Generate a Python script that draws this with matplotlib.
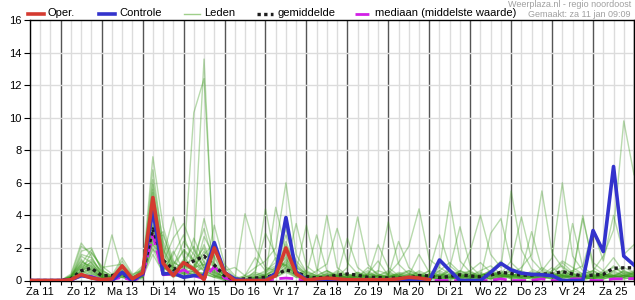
import matplotlib
matplotlib.use("Agg")
import matplotlib.pyplot as plt
from matplotlib.lines import Line2D

plt.rcParams["font.family"] = ["Liberation Sans", "DejaVu Sans"]

# 6-hourly steps, Za 11 06:00 .. Zo 26 00:00
days = ["Za 11", "Zo 12", "Ma 13", "Di 14", "Wo 15", "Do 16", "Vr 17", "Za 18",
        "Zo 19", "Ma 20", "Di 21", "Wo 22", "Do 23", "Vr 24", "Za 25"]

oper = [0, 0, 0, 0, 0.05, 0.37, 0.15, 0.05, 0.1, 0.9, 0.1, 0.47,
        5.1, 1.06, 0.3, 1.1, 0.7, 0.05, 2.0, 0.5, 0, 0, 0, 0,
        0.3, 2.0, 0.4, 0.02, 0.1, 0.15, 0.1, 0.05,
        0.05, 0.05, 0.05, 0.05, 0.1, 0.2, 0.15, 0.05]

controle = [0, 0, 0, 0, 0.05, 0.3, 0.2, 0, 0, 0.5, 0, 0.4,
            4.34, 0.4, 0.45, 0.2, 0.3, 0.3, 2.33, 0.5, 0.1, 0, 0, 0,
            0.45, 3.87, 0.5, 0.05, 0, 0, 0, 0, 0, 0, 0, 0,
            0, 0, 0, 0, 1.26, 0.62, 0, 0, 0, 0.5, 1.05, 0.65,
            0.45, 0.38, 0.35, 0.3, 0, 0, 0, 3.07, 1.78, 7.0, 1.5, 0.95]

gemiddelde = [0, 0, 0, 0, 0.1, 0.6, 0.75, 0.3, 0.3, 0.4, 0.1, 0.4,
              3.17, 1.25, 0.68, 0.95, 1.2, 1.5, 0.95, 0.3, 0.05, 0.1, 0.15, 0.2,
              0.35, 0.65, 0.5, 0.25, 0.15, 0.2, 0.33, 0.4, 0.33, 0.2, 0.18, 0.15,
              0.15, 0.15, 0.3, 0.28, 0.18, 0.25, 0.35, 0.28, 0.22, 0.33, 0.5, 0.43,
              0.33, 0.33, 0.4, 0.4, 0.55, 0.4, 0.28, 0.33, 0.38, 0.75, 0.78, 0.78]

mediaan = [0, 0, 0, 0, 0, 0.3, 0.25, 0.05, 0.05, 0.2, 0, 0.2,
           2.8, 0.35, 0.4, 0.65, 0.3, 0.1, 0.85, 0.15, 0, 0, 0, 0,
           0.1, 0.15, 0.1, 0, 0, 0, 0, 0, 0, 0, 0, 0,
           0, 0, 0, 0, 0, 0, 0, 0, 0, 0, 0.1, 0,
           0, 0, 0.1, 0, 0, 0.1, 0.1, 0, 0, 0.1, 0.1, 0.12]

leden = [
    [0, 0, 0, 0, 0.2, 1.8, 2.0, 0.6, 0.3, 0.8, 0.2, 0.6,
     6.2, 2.4, 1.0, 1.8, 1.2, 2.0, 0.8, 0.3, 0, 0, 0.2, 0.1,
     0.4, 2.2, 0.6, 0.2, 0.1, 0.4, 0.2, 0.1, 0, 0, 0.3, 0.6,
     0.2, 0, 0.1, 0.3, 0.5, 0.2, 0, 0.1, 0.3, 0.6, 1.2, 0.4,
     0.2, 0.1, 0.3, 0.8, 0.3, 0.1, 0, 0.2, 0.6, 1.4, 0.5, 0.3],
    [0, 0, 0, 0, 0.4, 2.3, 1.5, 0.3, 0.2, 1.2, 0.3, 0.9,
     4.8, 1.2, 0.4, 0.7, 2.6, 1.1, 0.4, 0.1, 0, 0.3, 1.4, 0.6,
     1.1, 3.2, 1.0, 0.4, 0.2, 0.1, 0, 0, 0.2, 0.8, 0.4, 0.1,
     0, 0.3, 1.6, 0.5, 0.2, 0.8, 3.3, 0.9, 0.3, 0.1, 0.2, 0.6,
     0.4, 0.2, 0.1, 0.3, 1.1, 0.5, 0.2, 0.1, 0.3, 0.9, 0.4, 0.2],
    [0, 0, 0, 0, 0.1, 0.6, 1.7, 0.9, 0.4, 0.5, 0.1, 0.3,
     3.6, 0.8, 0.3, 1.0, 10.3, 12.4, 1.1, 0.2, 0, 0, 0.1, 0.3,
     0.8, 1.4, 0.3, 0.1, 0, 0.2, 0.5, 0.3, 0.1, 0.4, 0.2, 0,
     0.1, 0.4, 0.3, 0.1, 0, 0.2, 0.6, 0.3, 0.1, 0.4, 0.3, 0.2,
     0.6, 0.3, 0.2, 0.1, 0.4, 0.2, 0.1, 0.5, 0.3, 0.2, 0.6, 0.4],
    [0, 0, 0, 0, 0.3, 1.2, 0.8, 0.2, 2.8, 0.6, 0.2, 0.4,
     5.4, 1.8, 0.6, 0.4, 1.8, 13.6, 0.5, 0.1, 0, 0.2, 0.4, 0.2,
     0.3, 1.0, 0.4, 0.2, 0.3, 0.6, 0.3, 0.2, 0.4, 0.2, 0.1, 0.3,
     0.2, 0.1, 0.2, 0.4, 0.3, 0.1, 0.2, 0.5, 0.2, 0.3, 0.4, 0.1,
     0.2, 0.3, 0.6, 0.2, 0.1, 0.3, 0.2, 0.1, 0.4, 0.3, 0.2, 0.5],
    [0, 0, 0, 0, 0.2, 0.9, 1.3, 0.5, 0.2, 0.4, 0.1, 0.7,
     7.6, 3.3, 1.2, 0.6, 0.9, 1.6, 2.3, 0.8, 0.2, 0, 0, 0.1,
     0.2, 0.6, 0.3, 0.1, 0, 0, 0.1, 0.2, 0.1, 0, 0, 0.1,
     0.3, 0.2, 0.1, 0.2, 0.1, 0, 0.3, 0.2, 0.1, 0.1, 0.2, 0.3,
     0.1, 0.2, 0.4, 0.2, 0.3, 0.1, 0.2, 0.3, 0.1, 0.2, 0.3, 0.2],
    [0, 0, 0, 0, 0.1, 0.5, 0.7, 0.2, 0.1, 0.3, 0, 0.2,
     3.1, 0.9, 0.5, 1.3, 0.7, 3.8, 1.4, 0.2, 0, 4.1, 2.0, 0.8,
     0.6, 2.4, 0.8, 0.3, 0.2, 0.1, 0.3, 0.4, 0.2, 0.1, 0.3, 0.5,
     0.2, 0.1, 0.4, 0.2, 0.6, 0.3, 0.1, 0.2, 0.1, 0.3, 0.5, 0.2,
     0.1, 0.2, 0.3, 0.1, 0.2, 0.6, 0.4, 0.2, 0.1, 0.3, 0.2, 0.4],
    [0, 0, 0, 0, 0.1, 1.5, 1.1, 0.4, 0.2, 0.7, 0.2, 0.5,
     5.9, 2.0, 0.7, 1.1, 0.5, 0.8, 0.6, 0.2, 0.1, 0.3, 0.8, 1.2,
     2.0, 6.0, 1.6, 0.5, 0.3, 0.2, 0.4, 0.1, 0, 0.2, 0.3, 0.1,
     0.1, 0.2, 0.1, 0.3, 0.2, 0.1, 0.3, 0.2, 0.4, 0.2, 0.1, 0.3,
     0.2, 0.1, 0.2, 0.3, 0.1, 0.4, 0.2, 0.1, 0.2, 0.3, 0.1, 0.2],
    [0, 0, 0, 0, 0.3, 1.0, 1.9, 0.7, 0.2, 0.4, 0.1, 0.8,
     2.2, 1.5, 3.9, 1.4, 0.8, 2.2, 0.7, 0.1, 0, 0, 0.4, 4.4,
     1.2, 0.9, 0.4, 0.2, 0.1, 0.3, 0.2, 0.1, 0.3, 0.2, 0.1, 0,
     0.2, 0.3, 0.2, 0.1, 0.4, 0.2, 0.1, 0.3, 0.2, 0.6, 0.3, 0.1,
     0.3, 0.2, 0.1, 0.4, 0.3, 0.2, 0.1, 0.2, 0.3, 0.1, 0.2, 0.3],
    [0, 0, 0, 0, 0, 0.4, 0.6, 0.2, 0.1, 0.2, 0, 0.1,
     2.3, 0.6, 0.2, 0.5, 0.4, 1.2, 0.3, 0, 0, 0, 0.1, 0.3,
     4.5, 1.8, 0.6, 3.4, 0.7, 0.2, 0.1, 0.3, 0.5, 0.2, 0.1, 0.4,
     0.3, 0.6, 0.4, 0.2, 0.8, 0.4, 0.2, 0.6, 1.1, 0.5, 0.3, 0.8,
     0.4, 0.2, 0.1, 0.6, 0.9, 0.4, 0.3, 0.2, 0.5, 0.8, 0.4, 0.3],
    [0, 0, 0, 0, 0.2, 0.8, 0.4, 0.1, 0.3, 1.4, 0.4, 0.6,
     2.9, 0.7, 0.9, 2.4, 1.6, 0.9, 0.4, 0.1, 0, 0.1, 0.2, 0.1,
     0.3, 0.8, 3.5, 0.9, 0.4, 4.0, 0.8, 0.3, 0.1, 0.4, 1.2, 0.3,
     0.1, 0.2, 0.6, 0.3, 0.1, 0.3, 0.4, 0.2, 0.3, 0.1, 0.2, 0.4,
     0.2, 0.6, 0.3, 0.2, 0.4, 0.2, 0.1, 0.3, 0.2, 0.6, 0.3, 0.2],
    [0, 0, 0, 0, 0.1, 0.3, 0.5, 0.2, 0.1, 0.2, 0.1, 0.3,
     2.0, 0.4, 0.3, 0.2, 0.6, 0.4, 0.2, 0.1, 0, 0, 0, 0.2,
     0.5, 1.2, 0.4, 0.2, 0.6, 1.0, 3.2, 1.1, 0.4, 0.2, 0.5, 3.6,
     1.0, 0.4, 0.2, 0.3, 0.2, 0.6, 0.3, 0.1, 0.2, 0.4, 0.3, 0.2,
     0.5, 0.3, 0.2, 0.1, 0.3, 0.2, 0.4, 0.6, 0.3, 0.2, 0.1, 0.2],
    [0, 0, 0, 0, 0.2, 1.1, 0.9, 0.3, 0.2, 0.5, 0.1, 0.4,
     2.5, 2.8, 1.1, 0.8, 1.4, 3.2, 0.9, 0.4, 0.1, 0, 0.3, 0.6,
     0.9, 1.6, 0.8, 0.4, 2.8, 0.6, 0.2, 0.8, 3.9, 1.0, 0.3, 0.2,
     0.4, 0.2, 0.3, 0.2, 0.3, 0.2, 0.4, 0.6, 0.2, 0.3, 0.2, 0.4,
     0.3, 0.2, 0.4, 0.3, 0.2, 0.1, 0.3, 0.2, 0.4, 0.3, 0.2, 0.1],
    [0, 0, 0, 0, 0.1, 0.6, 0.3, 0.1, 0, 0.3, 0.1, 0.2,
     3.4, 1.0, 0.6, 0.3, 0.8, 1.0, 0.5, 0.2, 0, 0, 0.1, 0.2,
     0.3, 0.7, 0.3, 0.1, 0.2, 0.4, 0.3, 0.2, 0.1, 0.3, 0.6, 0.4,
     1.1, 2.1, 4.4, 1.3, 0.8, 4.85, 1.2, 0.5, 0.3, 0.6, 0.4, 0.2,
     0.1, 0.3, 0.5, 0.2, 0.3, 0.4, 0.2, 0.1, 0.2, 0.4, 0.3, 0.2],
    [0, 0, 0, 0, 0.2, 0.7, 1.0, 0.4, 0.2, 0.6, 0.2, 0.3,
     1.9, 1.3, 0.5, 0.9, 0.6, 1.4, 0.8, 0.3, 0, 0, 0.2, 0.3,
     0.6, 1.1, 0.5, 0.2, 0.1, 0.2, 0.3, 0.2, 0.1, 0.2, 0.4, 0.2,
     0.3, 0.1, 0.2, 0.4, 0.6, 1.1, 0.5, 1.8, 4.0, 1.6, 0.8, 5.5,
     1.9, 0.7, 0.4, 0.3, 0.6, 0.3, 0.2, 0.4, 0.2, 0.5, 0.3, 0.2],
    [0, 0, 0, 0, 0, 0.2, 0.4, 0.2, 0.1, 0.3, 0, 0.2,
     1.6, 0.5, 1.8, 0.6, 0.3, 0.5, 0.2, 0, 0, 0, 0, 0.1,
     0.2, 0.5, 0.2, 0.1, 0, 0.1, 0.2, 0.4, 0.2, 0.1, 0.3, 0.2,
     0.1, 0.3, 0.5, 0.2, 0.1, 0.4, 0.2, 0.3, 0.6, 0.9, 0.4, 1.2,
     3.9, 1.3, 0.6, 1.4, 6.0, 1.5, 0.6, 0.3, 0.4, 0.2, 0.3, 0.5],
    [0, 0, 0, 0, 0.1, 0.4, 0.8, 0.3, 0.2, 0.8, 0.2, 0.5,
     2.6, 0.8, 0.4, 1.2, 2.1, 0.7, 0.3, 0.1, 0, 0, 0.2, 0.4,
     1.4, 0.9, 0.3, 0.1, 0.2, 0.5, 0.2, 0.1, 0.3, 0.6, 0.2, 0.1,
     0.2, 0.4, 0.3, 0.6, 2.8, 0.9, 0.4, 0.2, 0.3, 0.5, 0.3, 0.4,
     0.8, 1.6, 5.5, 1.7, 0.8, 0.4, 0.2, 0.6, 0.3, 0.2, 0.4, 0.6],
    [0, 0, 0, 0, 0.2, 0.9, 0.5, 0.1, 0.1, 0.4, 0.1, 0.3,
     3.0, 0.6, 1.6, 2.8, 1.0, 0.6, 0.3, 0.1, 0, 0, 0.1, 0.2,
     0.4, 1.3, 0.6, 0.3, 0.1, 0.2, 0.4, 0.2, 0.1, 0.2, 0.1, 0.3,
     0.2, 0.1, 0.3, 0.2, 0.1, 0.2, 0.3, 0.4, 0.2, 0.3, 0.5, 0.3,
     0.2, 0.4, 0.3, 0.6, 1.2, 0.8, 0.4, 0.6, 1.5, 3.1, 9.8, 6.5],
    [0, 0, 0, 0, 0.1, 0.5, 1.2, 0.6, 0.3, 0.5, 0.1, 0.4,
     5.0, 1.9, 0.8, 0.5, 0.4, 2.7, 1.5, 0.4, 0.1, 0, 0.1, 0.2,
     0.3, 0.8, 0.4, 0.2, 0.3, 0.1, 0.2, 0.3, 0.2, 0.1, 0.2, 0.4,
     0.1, 0.2, 0.3, 0.2, 0.4, 0.3, 0.2, 0.1, 0.4, 0.3, 0.6, 0.3,
     0.2, 0.5, 0.3, 0.2, 0.4, 0.6, 0.9, 3.1, 1.2, 4.0, 1.6, 2.2],
    [0, 0, 0, 0, 0.2, 1.6, 1.4, 0.5, 0.1, 0.3, 0.1, 0.6,
     6.8, 2.2, 0.9, 0.4, 0.3, 1.0, 0.6, 0.2, 0, 0.2, 0.5, 0.3,
     0.7, 1.9, 0.9, 0.4, 0.2, 0.3, 0.1, 0.2, 0.5, 0.3, 0.2, 0.1,
     0.3, 0.5, 0.2, 0.1, 0.3, 0.6, 0.4, 0.2, 0.1, 0.2, 0.3, 0.6,
     0.3, 0.2, 0.8, 0.4, 0.2, 0.3, 3.8, 1.1, 0.6, 0.3, 0.5, 0.4],
    [0, 0, 0, 0, 0.3, 2.1, 1.7, 0.8, 0.9, 1.0, 0.3, 0.7,
     4.0, 1.1, 2.6, 3.5, 1.9, 0.8, 0.5, 0.2, 0, 0.1, 0.3, 0.5,
     0.8, 2.8, 1.2, 0.5, 0.3, 0.6, 0.3, 2.6, 0.8, 0.3, 0.1, 0.2,
     0.4, 0.2, 0.1, 0.3, 0.2, 0.1, 0.2, 0.3, 0.2, 0.4, 0.2, 0.3,
     0.4, 0.3, 0.2, 0.5, 0.3, 0.2, 0.4, 0.3, 0.2, 0.6, 0.8, 0.5],
    [0, 0, 0, 0, 0.1, 0.8, 1.1, 0.3, 0.2, 0.6, 0.2, 0.5,
     5.6, 1.6, 0.7, 1.9, 1.3, 0.6, 0.3, 0.1, 0, 0, 0.6, 2.9,
     1.6, 0.7, 0.3, 0.2, 0.1, 0.2, 0.6, 0.3, 0.2, 0.5, 0.2, 0.3,
     2.4, 0.8, 0.3, 0.2, 0.1, 0.2, 0.5, 0.3, 0.2, 0.1, 0.4, 0.2,
     0.3, 0.2, 0.1, 0.3, 0.5, 0.2, 0.3, 0.2, 0.1, 0.3, 0.2, 0.4],
    [0, 0, 0, 0, 0.2, 1.3, 0.6, 0.2, 0.1, 0.2, 0, 0.3,
     3.3, 0.9, 0.3, 0.7, 0.5, 0.3, 3.4, 1.0, 0.3, 0, 0.1, 0.2,
     0.5, 1.0, 0.4, 0.6, 0.3, 0.2, 0.1, 0.2, 0.4, 0.2, 2.2, 0.8,
     0.3, 0.2, 0.1, 0.4, 0.3, 0.2, 0.6, 0.4, 0.2, 2.9, 3.8, 1.1,
     0.5, 0.3, 0.2, 0.4, 0.2, 0.3, 0.2, 0.1, 0.4, 0.2, 0.3, 0.2],
    [0, 0, 0, 0, 0.1, 0.6, 0.9, 0.4, 0.2, 0.4, 0.1, 0.2,
     2.4, 3.0, 0.8, 0.4, 0.6, 0.4, 0.2, 0.6, 0.8, 0.3, 0.1, 0.2,
     0.4, 0.6, 0.2, 0.1, 0.2, 0.4, 0.2, 0.1, 0.3, 0.2, 0.1, 0.2,
     0.5, 0.3, 0.2, 0.6, 0.3, 0.2, 0.1, 0.3, 0.5, 0.2, 0.3, 0.2,
     0.6, 3.0, 0.7, 0.3, 0.2, 3.5, 0.8, 0.4, 0.2, 0.3, 0.6, 0.3],
    [0, 0, 0, 0, 0.2, 1.0, 0.7, 0.2, 0.2, 0.9, 0.2, 0.4,
     2.7, 1.4, 0.6, 0.9, 0.7, 1.8, 1.0, 0.3, 0, 0, 0.2, 0.4,
     0.6, 1.5, 0.6, 0.3, 0.1, 0.2, 0.3, 0.1, 0.2, 0.4, 0.3, 0.2,
     0.4, 0.6, 0.3, 0.2, 0.3, 0.4, 0.2, 0.1, 0.3, 0.4, 0.2, 0.3,
     0.2, 0.4, 0.3, 0.2, 0.6, 0.3, 4.0, 0.8, 0.4, 0.2, 0.3, 0.5],
]

W, H = 635, 300
fig = plt.figure(figsize=(W / 100, H / 100), dpi=100)
ax = fig.add_axes([30 / W, (H - 280.5) / H, 604 / W, 260.5 / H])

n = len(controle)
x = list(range(n))

# grid: light every 6 h, dark at midnight
for i in x:
    dark = (i - 3) % 4 == 0
    ax.axvline(i, color="#555555" if dark else "#dcdcdc", lw=1, zorder=0)
for v in range(2, 16, 2):
    ax.axhline(v, color="#dcdcdc", lw=1, zorder=0)

GREEN = "#3a9a1c"
for m in leden:
    ax.plot(x, m, color=GREEN, lw=1.0, alpha=0.36, zorder=1)

MAG = "#d21fe6"
ax.plot(x, mediaan, color=MAG, lw=2.0, dashes=(5, 2), zorder=2)
ax.plot(x, gemiddelde, color="#1e1e1e", lw=2.4, dashes=(1, 1), zorder=3)
ax.plot(x, controle, color="#3333cc", lw=2.6, zorder=4)
ax.plot(x[:len(oper)], oper, color="#d43a30", lw=2.6, zorder=5)

ax.set_xlim(0, n - 1)
ax.set_ylim(0, 16)
ax.set_yticks(range(0, 17, 2))
ax.set_xticks(x)
ax.set_xticklabels([days[(i - 1) // 4] if (i - 1) % 4 == 0 else "" for i in x])
ax.tick_params(axis="x", length=3, width=0.8, pad=2, labelsize=8)
ax.tick_params(axis="y", length=4, width=0.8, pad=2, labelsize=8)
for s in ax.spines.values():
    s.set_color("black")
    s.set_linewidth(1)

# legend drawn in pixel positions above the plot
def fx(px):
    return px / W

def fy(py):
    return 1 - py / H

ly = 13.5
items = [
    (28, dict(color="#d43a30", lw=2.6), "Oper."),
    (99, dict(color="#3333cc", lw=2.6), "Controle"),
    (184, dict(color="#9fcf8a", lw=1.0), "Leden"),
    (257, dict(color="#1e1e1e", lw=2.4, dashes=(1, 1)), "gemiddelde"),
    (355, dict(color=MAG, lw=2.0, dashes=(5, 1.2, 1, 2)), "mediaan (middelste waarde)"),
]
for x0, style, label in items:
    fig.add_artist(Line2D([fx(x0), fx(x0 + 16)], [fy(ly), fy(ly)],
                          transform=fig.transFigure, **style))
    fig.text(fx(x0 + 20), fy(ly), label, fontsize=8, va="center", ha="left")

fig.text(fx(631), fy(4.5), "Weerplaza.nl - regio noordoost", fontsize=6.5,
         color="#a0a0a0", ha="right", va="center")
fig.text(fx(631), fy(14.5), "Gemaakt: za 11 jan 09:09", fontsize=6.5,
         color="#a0a0a0", ha="right", va="center")

fig.savefig("out.png", dpi=100)
